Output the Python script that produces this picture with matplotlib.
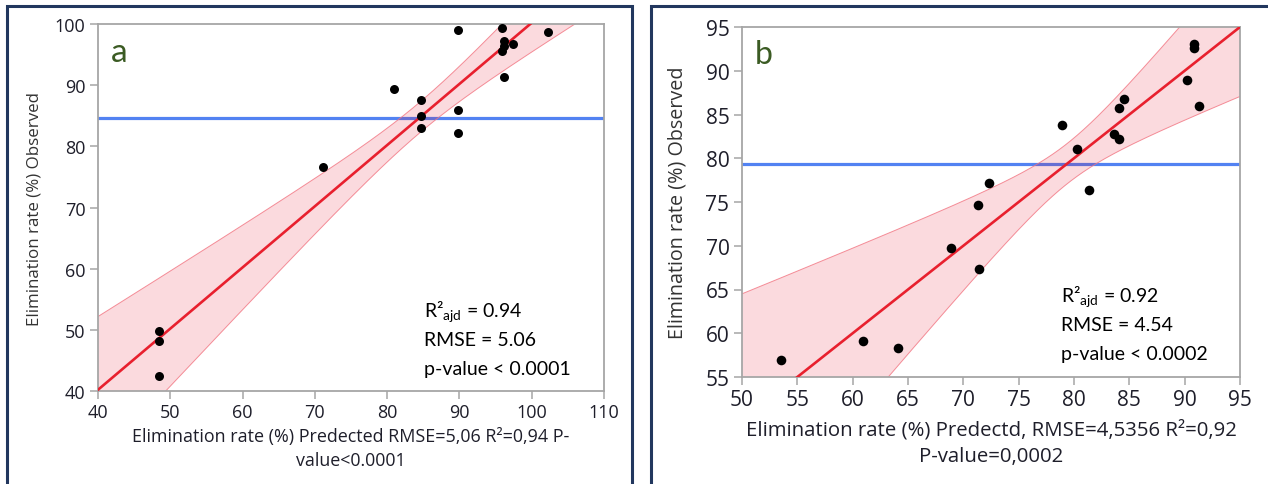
import numpy as np
import matplotlib
matplotlib.use("Agg")
import matplotlib.pyplot as plt
from matplotlib.patches import Rectangle

# ---------------- data ----------------
pred_a = [89.8, 95.9, 102.2, 96.1, 97.4, 96.1, 95.9, 96.2, 81.0, 84.7,
          89.8, 84.7, 84.7, 89.8, 71.1, 48.4, 48.4, 48.4]
obs_a = [99.1, 99.3, 98.7, 97.2, 96.8, 96.4, 95.6, 91.4, 89.4, 87.5,
         86.0, 84.9, 83.0, 82.1, 76.7, 49.8, 48.1, 42.4]
mean_obs_a = 84.7
fit_a = (1.0, 0.2)           # slope, intercept of actual-by-predicted fit
ci_a = (2.5, 0.263)          # half width at mean, growth per unit

pred_b = [90.8, 90.8, 90.2, 91.3, 84.5, 84.1, 78.9, 83.6, 84.1, 80.3,
          81.4, 72.3, 71.3, 68.9, 71.4, 53.5, 60.9, 64.1]
obs_b = [93.1, 92.6, 88.9, 86.0, 86.8, 85.7, 83.8, 82.8, 82.2, 81.1,
         76.4, 77.2, 74.7, 69.8, 67.3, 56.9, 59.1, 58.3]
mean_obs_b = 79.4
fit_b = (1.0, 0.0)
ci_b = (2.3, 0.487)

xticks_a = [40, 50, 60, 70, 80, 90, 100, 110]
yticks_a = [40, 50, 60, 70, 80, 90, 100]
xticks_b = [50, 55, 60, 65, 70, 75, 80, 85, 90, 95]
yticks_b = [55, 60, 65, 70, 75, 80, 85, 90, 95]

xlabel_a = "Elimination rate (%) Predected RMSE=5,06 R\u00b2=0,94 P-\nvalue<0.0001"
xlabel_b = "Elimination rate (%) Predectd, RMSE=4,5356 R\u00b2=0,92\nP-value=0,0002"
ylabel = "Elimination rate (%) Observed"
stats_a = ["R\u00b2$_{\\mathregular{ajd}}$ = 0.94", "RMSE = 5.06", "p-value < 0.0001"]
stats_b = ["R\u00b2$_{\\mathregular{ajd}}$ = 0.92", "RMSE = 4.54", "p-value < 0.0002"]

# ---------------- figure ----------------
W, H = 1268, 485
fig = plt.figure(figsize=(W / 100, H / 100), dpi=100)
fig.patch.set_facecolor("white")

navy = "#22375e"
for (x0, x1) in [(7, 632), (651, 1300)]:
    fig.add_artist(Rectangle((x0 / W, -0.2), (x1 - x0) / W, 1.2 - 7 / H,
                             transform=fig.transFigure, fill=False,
                             edgecolor=navy, lw=2.2))

tick_font = "Open Sans"
stat_font = "Lato"


def panel(rect, px, py, mean_obs, fit, ci, xlim, ylim, xt, yt, xlabel, stats,
          letter, tick_fs, lab_fs, ylab_fs, xlab_y, stat_xy, letter_fs,
          ylab_x, dot_s):
    ax = fig.add_axes([rect[0] / W, 1 - rect[3] / H, (rect[2] - rect[0]) / W,
                       (rect[3] - rect[1]) / H])
    ax.set_xlim(*xlim)
    ax.set_ylim(*ylim)
    xs = np.linspace(xlim[0] - 5, xlim[1] + 5, 400)
    slope, inter = fit
    yl = slope * xs + inter
    x0 = (mean_obs - inter) / slope
    hw = np.sqrt(ci[0] ** 2 + (ci[1] * (xs - x0)) ** 2)
    ax.axhline(mean_obs, color="#5282f2", lw=2.3, zorder=1)
    ax.fill_between(xs, yl - hw, yl + hw, color=(0.90, 0.0, 0.12), alpha=0.145,
                    lw=0, zorder=2)
    ax.plot(xs, yl - hw, color=(0.95, 0.45, 0.5), lw=0.7, alpha=0.8, zorder=2)
    ax.plot(xs, yl + hw, color=(0.95, 0.45, 0.5), lw=0.7, alpha=0.8, zorder=2)
    ax.plot(xs, yl, color="#e8202e", lw=1.9, zorder=3)
    ax.scatter(px, py, s=dot_s, color="black", zorder=4, linewidths=0)
    for s in ax.spines.values():
        s.set_color("#a6a6a6")
        s.set_linewidth(1.3)
    ax.set_xticks(xt)
    ax.set_yticks(yt)
    ax.tick_params(length=6, width=1.1, color="#a6a6a6", pad=3,
                   labelsize=tick_fs, labelcolor="#1e1e2a")
    for lab in ax.get_xticklabels() + ax.get_yticklabels():
        lab.set_family(tick_font)
    cx = (rect[0] + rect[2]) / 2
    fig.text(cx / W, 1 - xlab_y[0] / H, xlabel.split("\n")[0],
             family=tick_font, fontsize=lab_fs, color="#1e1e2a",
             ha="center", va="center")
    fig.text(cx / W, 1 - xlab_y[1] / H, xlabel.split("\n")[1],
             family=tick_font, fontsize=lab_fs, color="#1e1e2a",
             ha="center", va="center")
    fig.text(ylab_x / W, 1 - (rect[1] + rect[3]) / 2 / H, ylabel,
             rotation=90, ha="center", va="center", family=tick_font,
             fontsize=ylab_fs, color="#333333")
    for i, s in enumerate(stats):
        fig.text(stat_xy[0] / W, 1 - (stat_xy[1] + i * 28.8) / H, s,
                 family=stat_font, fontsize=14, color="black",
                 ha="left", va="center")
    ax.text(0.025, 0.965, letter, transform=ax.transAxes, family=stat_font,
            fontsize=letter_fs, color="#3b5b23", ha="left", va="top")
    return ax


panel((98, 25, 604, 392), pred_a, obs_a, mean_obs_a, fit_a, ci_a, (40, 110),
      (40, 100), xticks_a, yticks_a, xlabel_a, stats_a, "a", 13, 12.9, 12.2,
      (437, 461), (424, 312), 24, 35, 42)
panel((742, 28, 1240, 378), pred_b, obs_b, mean_obs_b, fit_b, ci_b, (50, 95),
      (55, 95), xticks_b, yticks_b, xlabel_b, stats_b, "b", 15, 14.7, 14.2,
      (430, 457), (1061, 297), 23, 677, 48)

fig.savefig("out.png", dpi=100, facecolor="white")
